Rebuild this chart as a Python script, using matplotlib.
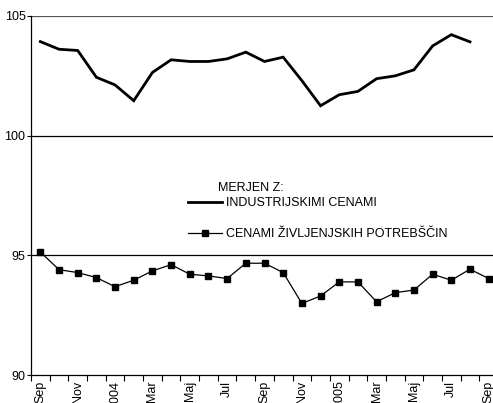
import numpy as np
import matplotlib.pyplot as plt
from matplotlib.ticker import FixedLocator, NullFormatter

plt.rcParams['font.family'] = ['Liberation Sans Narrow', 'Liberation Sans', 'DejaVu Sans']

# data
months = ["Sep", "Okt", "Nov", "Dec", "2004", "Feb", "Mar", "Apr", "Maj", "Jun", "Jul", "Avg",
          "Sep", "Okt", "Nov", "Dec", "2005", "Feb", "Mar", "Apr", "Maj", "Jun", "Jul", "Avg", "Sep"]
industrijske = [103.93, 103.61, 103.56, 102.44, 102.12, 101.46, 102.64, 103.17, 103.10, 103.10,
                103.21, 103.49, 103.10, 103.28, 102.30, 101.25, 101.71, 101.85, 102.38, 102.50,
                102.75, 103.75, 104.22, 103.92]
zivljenjske = [95.14, 94.40, 94.28, 94.07, 93.69, 93.96, 94.35, 94.61, 94.21, 94.14, 94.03, 94.67,
               94.67, 94.28, 92.99, 93.30, 93.89, 93.89, 93.06, 93.44, 93.55, 94.21, 93.96, 94.42,
               94.03]

W, H = 493, 403
fig = plt.figure(figsize=(W / 100, H / 100), dpi=100)
ax = fig.add_axes([31 / W, 1 - 375 / H, 467 / W, 359 / H])

x = np.arange(len(months))
ax.plot(x[:len(industrijske)], industrijske, color='black', lw=2.0,
        label="INDUSTRIJSKIMI CENAMI", solid_joinstyle='miter')
ax.plot(x, zivljenjske, color='black', lw=0.9, marker='s', markersize=5,
        label="CENAMI ŽIVLJENJSKIH POTREBŠČIN")

for yv in (95, 100):
    ax.axhline(yv, color='black', lw=0.9, zorder=0)
ax.axhline(105, color='#555555', lw=0.9, zorder=0)

ax.set_xlim(-0.5, len(months) - 0.5)
ax.set_ylim(90, 105)
ax.set_yticks([90, 95, 100, 105])
ax.tick_params(axis='y', length=3, width=0.8, pad=1, labelsize=9)

ax.set_xticks(x[::2])
ax.set_xticklabels(months[::2], rotation=90, fontsize=9)
ax.xaxis.set_minor_locator(FixedLocator(np.arange(-0.5, len(months), 1)))
ax.xaxis.set_minor_formatter(NullFormatter())
ax.tick_params(axis='x', which='major', length=0, pad=4)
ax.tick_params(axis='x', which='minor', length=4, width=0.8)

for s in ('top', 'right'):
    ax.spines[s].set_visible(False)
ax.spines['left'].set_linewidth(0.9)
ax.spines['bottom'].set_linewidth(0.9)

fig.text(218 / W, 1 - 188 / H, "MERJEN Z:", fontsize=9, va='center', ha='left')
ax.legend(loc='upper left', bbox_to_anchor=(188 / W, 1 - 197 / H), bbox_transform=fig.transFigure,
          frameon=False, fontsize=9, handlelength=2.7, handletextpad=0.3, labelspacing=1.55,
          borderpad=0, borderaxespad=0)

fig.savefig("out.png", dpi=100)
